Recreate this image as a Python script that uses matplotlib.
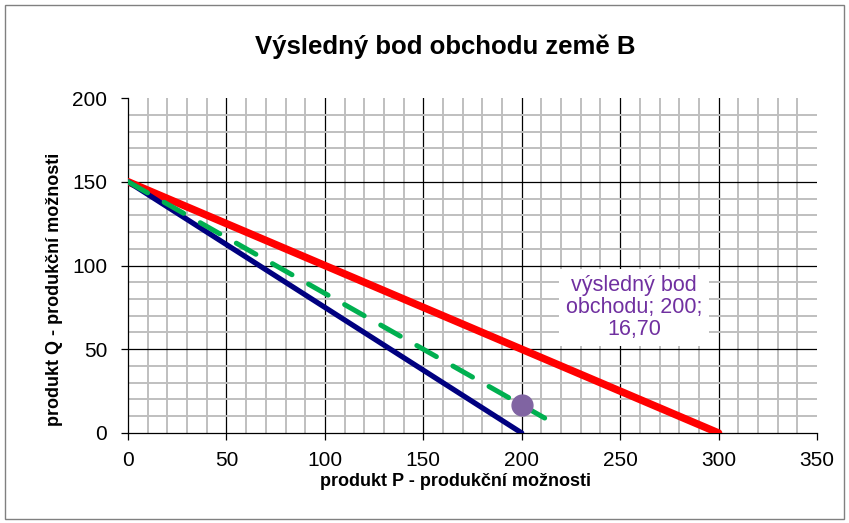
import matplotlib
matplotlib.use("Agg")
import matplotlib.pyplot as plt
import numpy as np

plt.rcParams['font.family'] = ['Liberation Sans', 'DejaVu Sans']

# Data
blue_x = [0, 200]
blue_y = [150, 0]
red_x = [0, 300]
red_y = [150, 0]
green_x = [0, 215]
green_y = [150, 6.7]
point_x = [200]
point_y = [16.70]
point_label = "výsledný bod\nobchodu; 200;\n16,70"
title = "Výsledný bod obchodu země B"
xlabel = "produkt P - produkční možnosti"
ylabel = "produkt Q - produkční možnosti"
x_ticks = [0, 50, 100, 150, 200, 250, 300, 350]
y_ticks = [0, 50, 100, 150, 200]

fig = plt.figure(figsize=(8.49, 5.23), dpi=100)
# outer chart border
fig.patches.append(plt.Rectangle((0.006, 0.008), 0.988, 0.983, transform=fig.transFigure,
                                 fill=False, edgecolor='#808080', linewidth=1.0))
ax = fig.add_axes([0.1508, 0.1721, 0.8115, 0.6405])
ax.set_xlim(0, 350)
ax.set_ylim(0, 200)

# grid
for xv in np.arange(10, 350, 10):
    major = xv % 50 == 0
    ax.axvline(xv, color='black' if major else '#BFBFBF', lw=0.9 if major else 1.4, zorder=1)
for yv in np.arange(10, 200, 10):
    major = yv % 50 == 0
    ax.axhline(yv, color='black' if major else '#BFBFBF', lw=0.9 if major else 1.4, zorder=1)

ax.plot(red_x, red_y, color='#FF0000', lw=5.4, solid_capstyle='round', zorder=3)
ax.plot(blue_x, blue_y, color='#000080', lw=3.8, solid_capstyle='round', zorder=4)
ax.plot(green_x, green_y, color='#00B050', lw=3.6, dashes=(4.5, 3.8), dash_capstyle='round', zorder=5)
ax.plot(point_x, point_y, 'o', color='#8064A2', markersize=15, zorder=6)

ax.text(257, 75, point_label, color='#7030A0', fontsize=15.5, ha='center', va='center',
        linespacing=1.05, zorder=7,
        bbox=dict(boxstyle='square,pad=0.3', facecolor='white', edgecolor='none'))

for s in ['top', 'right']:
    ax.spines[s].set_visible(False)
for s in ['left', 'bottom']:
    ax.spines[s].set_color('black')
    ax.spines[s].set_linewidth(0.9)
    ax.spines[s].set_zorder(2)

ax.set_xticks(x_ticks)
ax.set_yticks(y_ticks)
ax.tick_params(axis='both', labelsize=15, length=5, width=0.9, direction='out')
ax.tick_params(axis='y', pad=10)
ax.tick_params(axis='x', pad=8)
ax.set_xlabel(xlabel, fontsize=13, fontweight='bold', va='center')
ax.set_ylabel(ylabel, fontsize=13, fontweight='bold', va='center')
ax.xaxis.set_label_coords(0.476, -0.146)
ax.yaxis.set_label_coords(-0.106, 0.43)
fig.text(0.525, 0.91, title, ha='center', va='center', fontsize=18.5, fontweight='bold')

fig.savefig('out.png', dpi=100)
